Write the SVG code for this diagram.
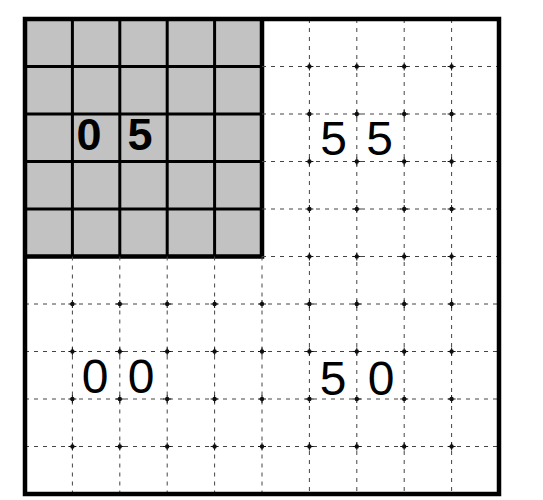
<svg xmlns="http://www.w3.org/2000/svg" width="543" height="500" viewBox="0 0 543 500">
<defs>
<style>
.bg{fill:#ffffff}
.shade{fill:#c2c2c2}
.solid{stroke:#000;stroke-width:3;fill:none}
.thick{stroke:#000;stroke-width:4.5;fill:none}
.dash{stroke:#444;stroke-width:1;stroke-dasharray:4 5;fill:none}
.dot{fill:#111}
.lbl{font-family:"Liberation Sans",Arial,sans-serif;font-size:48px;fill:#000;text-anchor:middle}
.lblb{font-family:"Liberation Sans",Arial,sans-serif;font-size:45px;font-weight:bold;fill:#000;text-anchor:middle}
</style>
<g id="d"><circle r="2.2" class="dot"/><path d="M-4 0H4M0 -4V4" stroke="#111" stroke-width="1"/></g>
</defs>
<rect class="bg" x="0" y="0" width="543" height="500"/>
<g id="shaded-block">
<rect class="shade" x="25" y="19" width="237" height="237.5"/>
<path class="solid" d="M72.4 19V256.5M119.8 19V256.5M167.2 19V256.5M214.6 19V256.5M25 66.5H262M25 114H262M25 161.5H262M25 209H262"/>
<path class="thick" d="M262 19V256.5H25"/>
</g>
<g id="grid-lines">
<path class="dash" d="M72.4 256.5V494M119.8 256.5V494M167.2 256.5V494M214.6 256.5V494M262 256.5V494M309.4 19V494M356.8 19V494M404.2 19V494M451.6 19V494"/>
<path class="dash" d="M262 66.5H499M262 114H499M262 161.5H499M262 209H499M262 256.5H499M25 304H499M25 351.5H499M25 399H499M25 446.5H499"/>
</g>
<g id="intersections">
<use href="#d" x="309.4" y="66.5"/><use href="#d" x="356.8" y="66.5"/><use href="#d" x="404.2" y="66.5"/><use href="#d" x="451.6" y="66.5"/>
<use href="#d" x="309.4" y="114"/><use href="#d" x="356.8" y="114"/><use href="#d" x="404.2" y="114"/><use href="#d" x="451.6" y="114"/>
<use href="#d" x="309.4" y="161.5"/><use href="#d" x="356.8" y="161.5"/><use href="#d" x="404.2" y="161.5"/><use href="#d" x="451.6" y="161.5"/>
<use href="#d" x="309.4" y="209"/><use href="#d" x="356.8" y="209"/><use href="#d" x="404.2" y="209"/><use href="#d" x="451.6" y="209"/>
<use href="#d" x="309.4" y="256.5"/><use href="#d" x="356.8" y="256.5"/><use href="#d" x="404.2" y="256.5"/><use href="#d" x="451.6" y="256.5"/>
<use href="#d" x="72.4" y="304"/><use href="#d" x="119.8" y="304"/><use href="#d" x="167.2" y="304"/><use href="#d" x="214.6" y="304"/><use href="#d" x="262" y="304"/><use href="#d" x="309.4" y="304"/><use href="#d" x="356.8" y="304"/><use href="#d" x="404.2" y="304"/><use href="#d" x="451.6" y="304"/>
<use href="#d" x="72.4" y="351.5"/><use href="#d" x="119.8" y="351.5"/><use href="#d" x="167.2" y="351.5"/><use href="#d" x="214.6" y="351.5"/><use href="#d" x="262" y="351.5"/><use href="#d" x="309.4" y="351.5"/><use href="#d" x="356.8" y="351.5"/><use href="#d" x="404.2" y="351.5"/><use href="#d" x="451.6" y="351.5"/>
<use href="#d" x="72.4" y="399"/><use href="#d" x="119.8" y="399"/><use href="#d" x="167.2" y="399"/><use href="#d" x="214.6" y="399"/><use href="#d" x="262" y="399"/><use href="#d" x="309.4" y="399"/><use href="#d" x="356.8" y="399"/><use href="#d" x="404.2" y="399"/><use href="#d" x="451.6" y="399"/>
<use href="#d" x="72.4" y="446.5"/><use href="#d" x="119.8" y="446.5"/><use href="#d" x="167.2" y="446.5"/><use href="#d" x="214.6" y="446.5"/><use href="#d" x="262" y="446.5"/><use href="#d" x="309.4" y="446.5"/><use href="#d" x="356.8" y="446.5"/><use href="#d" x="404.2" y="446.5"/><use href="#d" x="451.6" y="446.5"/>
</g>
<g id="frame">
<rect class="thick" x="25" y="19" width="474" height="475"/>
</g>
<g id="labels">
<text id="lbl-05" class="lblb" y="150"><tspan x="89">0</tspan><tspan x="140">5</tspan></text>
<text id="lbl-55" class="lbl" y="155"><tspan x="333.5">5</tspan><tspan x="379.5">5</tspan></text>
<text id="lbl-00" class="lbl" y="393"><tspan x="95">0</tspan><tspan x="141">0</tspan></text>
<text id="lbl-50" class="lbl" y="395"><tspan x="333">5</tspan><tspan x="381">0</tspan></text>
</g>
</svg>
